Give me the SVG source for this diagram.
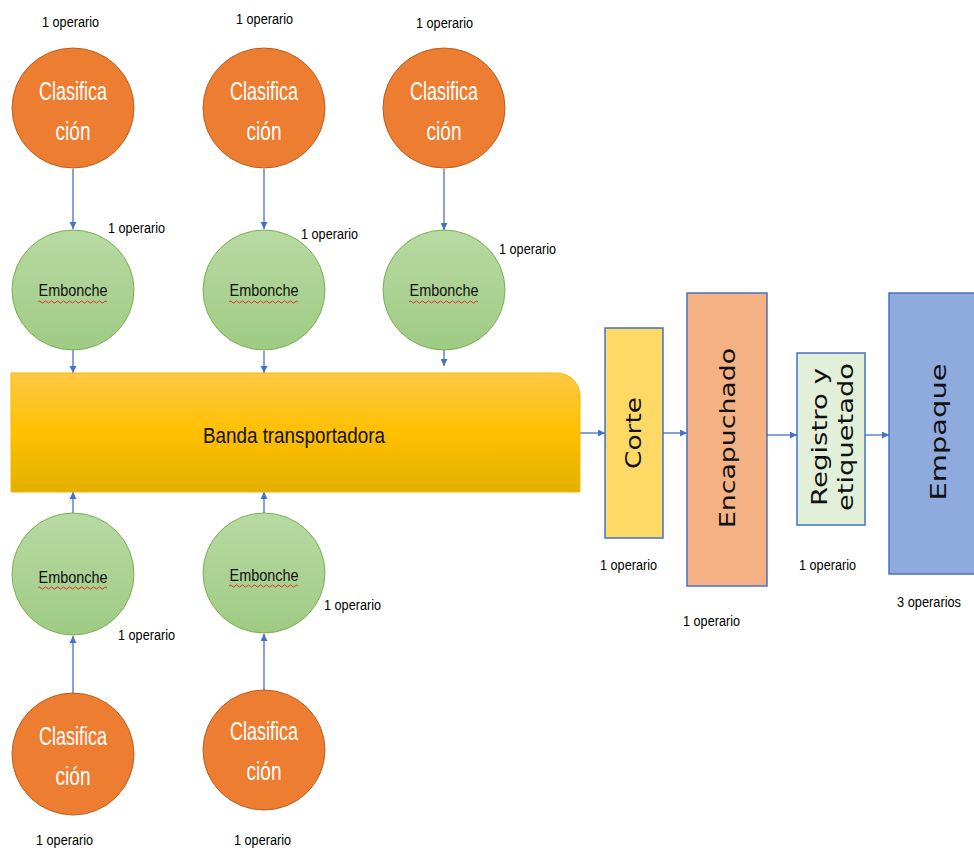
<svg xmlns="http://www.w3.org/2000/svg" width="974" height="850" viewBox="0 0 974 850">
  <defs>
    <style>
      .lbl { font-family: "Liberation Sans", Arial, sans-serif; font-size: 14px; fill: #000; }
      .cls { fill: #ED7D31; stroke: #B85F22; stroke-width: 1; }
      .clst { font-family: "Liberation Sans", Arial, sans-serif; font-size: 25px; fill: #fff; text-anchor: middle; }
      .emb { fill: url(#gGreen); stroke: #79B050; stroke-width: 1; }
      .embt { font-family: "Liberation Sans", Arial, sans-serif; font-size: 17px; fill: #111; text-anchor: middle; }
      .sq { fill: none; stroke: #E03030; stroke-width: 1; }
      .conn { stroke: #4472C4; stroke-width: 1.3; fill: none; marker-end: url(#arr); }
      .box { stroke: #4472C4; stroke-width: 1.5; }
      .bt { font-family: "DejaVu Sans", Verdana, sans-serif; font-size: 21px; fill: #111; text-anchor: middle; dominant-baseline: central; }
    </style>
    <linearGradient id="gGreen" x1="0" y1="0" x2="0" y2="1">
      <stop offset="0" stop-color="#B7DAA3"/>
      <stop offset="1" stop-color="#9FCB83"/>
    </linearGradient>
    <linearGradient id="gBand" x1="0" y1="0" x2="0" y2="1">
      <stop offset="0" stop-color="#FFC845"/>
      <stop offset="0.5" stop-color="#FFC000"/>
      <stop offset="1" stop-color="#E3B000"/>
    </linearGradient>
    <marker id="arr" viewBox="0 0 10 10" refX="10" refY="5" markerWidth="7" markerHeight="7" markerUnits="userSpaceOnUse" orient="auto">
      <path d="M0,0 L10,5 L0,10 z" fill="#4472C4"/>
    </marker>
  </defs>

  <rect width="974" height="850" fill="#fff"/>

  <!-- connectors -->
  <g id="connectors">
    <line class="conn" x1="73" y1="169" x2="73" y2="229"/>
    <line class="conn" x1="264" y1="169" x2="264" y2="229"/>
    <line class="conn" x1="444" y1="169" x2="444" y2="230"/>
    <line class="conn" x1="73" y1="350" x2="73" y2="373"/>
    <line class="conn" x1="264" y1="351" x2="264" y2="373"/>
    <line class="conn" x1="444" y1="350" x2="444" y2="366"/>
    <line class="conn" x1="73" y1="513" x2="73" y2="492"/>
    <line class="conn" x1="264" y1="513" x2="264" y2="492"/>
    <line class="conn" x1="73" y1="693" x2="73" y2="636"/>
    <line class="conn" x1="264" y1="690" x2="264" y2="634"/>
    <line class="conn" x1="580" y1="433" x2="605" y2="433"/>
    <line class="conn" x1="663" y1="433" x2="687" y2="433"/>
    <line class="conn" x1="767" y1="435" x2="797" y2="435"/>
    <line class="conn" x1="865" y1="435" x2="889" y2="435"/>
  </g>

  <!-- top classification stations -->
  <g id="clas-top-1">
    <ellipse class="cls" cx="73" cy="108" rx="61" ry="60"/>
    <text class="clst" x="73" y="100" textLength="68" lengthAdjust="spacingAndGlyphs">Clasifica</text>
    <text class="clst" x="73" y="140" textLength="35" lengthAdjust="spacingAndGlyphs">ción</text>
    <text class="lbl" x="42" y="27" textLength="57" lengthAdjust="spacingAndGlyphs">1 operario</text>
  </g>
  <g id="clas-top-2">
    <ellipse class="cls" cx="264" cy="108" rx="61" ry="60"/>
    <text class="clst" x="264" y="100" textLength="68" lengthAdjust="spacingAndGlyphs">Clasifica</text>
    <text class="clst" x="264" y="140" textLength="35" lengthAdjust="spacingAndGlyphs">ción</text>
    <text class="lbl" x="236" y="24" textLength="57" lengthAdjust="spacingAndGlyphs">1 operario</text>
  </g>
  <g id="clas-top-3">
    <ellipse class="cls" cx="444" cy="108" rx="61" ry="60"/>
    <text class="clst" x="444" y="100" textLength="68" lengthAdjust="spacingAndGlyphs">Clasifica</text>
    <text class="clst" x="444" y="140" textLength="35" lengthAdjust="spacingAndGlyphs">ción</text>
    <text class="lbl" x="416" y="28" textLength="57" lengthAdjust="spacingAndGlyphs">1 operario</text>
  </g>

  <!-- top bunching stations -->
  <g id="emb-top-1">
    <ellipse class="emb" cx="73" cy="290" rx="61" ry="60"/>
    <text class="embt" x="73" y="296" textLength="69" lengthAdjust="spacingAndGlyphs">Embonche</text>
    <path class="sq" d="M38,302 q1.5,-2 3,0 t3,0 t3,0 t3,0 t3,0 t3,0 t3,0 t3,0 t3,0 t3,0 t3,0 t3,0 t3,0 t3,0 t3,0 t3,0 t3,0 t3,0 t3,0 t3,0 t3,0 t3,0 t3,0"/>
    <text class="lbl" x="108" y="233" textLength="57" lengthAdjust="spacingAndGlyphs">1 operario</text>
  </g>
  <g id="emb-top-2">
    <ellipse class="emb" cx="264" cy="290" rx="61" ry="60"/>
    <text class="embt" x="264" y="296" textLength="69" lengthAdjust="spacingAndGlyphs">Embonche</text>
    <path class="sq" d="M229,302 q1.5,-2 3,0 t3,0 t3,0 t3,0 t3,0 t3,0 t3,0 t3,0 t3,0 t3,0 t3,0 t3,0 t3,0 t3,0 t3,0 t3,0 t3,0 t3,0 t3,0 t3,0 t3,0 t3,0 t3,0"/>
    <text class="lbl" x="301" y="239" textLength="57" lengthAdjust="spacingAndGlyphs">1 operario</text>
  </g>
  <g id="emb-top-3">
    <ellipse class="emb" cx="444" cy="290" rx="61" ry="60"/>
    <text class="embt" x="444" y="296" textLength="69" lengthAdjust="spacingAndGlyphs">Embonche</text>
    <path class="sq" d="M409,302 q1.5,-2 3,0 t3,0 t3,0 t3,0 t3,0 t3,0 t3,0 t3,0 t3,0 t3,0 t3,0 t3,0 t3,0 t3,0 t3,0 t3,0 t3,0 t3,0 t3,0 t3,0 t3,0 t3,0 t3,0"/>
    <text class="lbl" x="499" y="254" textLength="57" lengthAdjust="spacingAndGlyphs">1 operario</text>
  </g>

  <!-- conveyor belt -->
  <g id="banda">
    <path d="M11,373 H557 A23,23 0 0 1 580,396 V492 H11 Z" fill="url(#gBand)" stroke="#F2B800" stroke-width="1"/>
    <text x="294" y="443" font-family="Liberation Sans, Arial, sans-serif" font-size="22" fill="#111" text-anchor="middle" textLength="182" lengthAdjust="spacingAndGlyphs">Banda transportadora</text>
  </g>

  <!-- bottom bunching stations -->
  <g id="emb-bot-1">
    <ellipse class="emb" cx="73" cy="574" rx="61" ry="61"/>
    <text class="embt" x="73" y="583" textLength="69" lengthAdjust="spacingAndGlyphs">Embonche</text>
    <path class="sq" d="M38,588 q1.5,-2 3,0 t3,0 t3,0 t3,0 t3,0 t3,0 t3,0 t3,0 t3,0 t3,0 t3,0 t3,0 t3,0 t3,0 t3,0 t3,0 t3,0 t3,0 t3,0 t3,0 t3,0 t3,0 t3,0"/>
    <text class="lbl" x="118" y="640" textLength="57" lengthAdjust="spacingAndGlyphs">1 operario</text>
  </g>
  <g id="emb-bot-2">
    <ellipse class="emb" cx="264" cy="573" rx="61" ry="60"/>
    <text class="embt" x="264" y="581" textLength="69" lengthAdjust="spacingAndGlyphs">Embonche</text>
    <path class="sq" d="M229,586 q1.5,-2 3,0 t3,0 t3,0 t3,0 t3,0 t3,0 t3,0 t3,0 t3,0 t3,0 t3,0 t3,0 t3,0 t3,0 t3,0 t3,0 t3,0 t3,0 t3,0 t3,0 t3,0 t3,0 t3,0"/>
    <text class="lbl" x="324" y="610" textLength="57" lengthAdjust="spacingAndGlyphs">1 operario</text>
  </g>

  <!-- bottom classification stations -->
  <g id="clas-bot-1">
    <ellipse class="cls" cx="73" cy="754" rx="61" ry="61"/>
    <text class="clst" x="73" y="745" textLength="68" lengthAdjust="spacingAndGlyphs">Clasifica</text>
    <text class="clst" x="73" y="785" textLength="35" lengthAdjust="spacingAndGlyphs">ción</text>
    <text class="lbl" x="36" y="845" textLength="57" lengthAdjust="spacingAndGlyphs">1 operario</text>
  </g>
  <g id="clas-bot-2">
    <ellipse class="cls" cx="264" cy="750" rx="61" ry="60"/>
    <text class="clst" x="264" y="740" textLength="68" lengthAdjust="spacingAndGlyphs">Clasifica</text>
    <text class="clst" x="264" y="780" textLength="35" lengthAdjust="spacingAndGlyphs">ción</text>
    <text class="lbl" x="234" y="845" textLength="57" lengthAdjust="spacingAndGlyphs">1 operario</text>
  </g>

  <!-- downstream process steps -->
  <g id="corte">
    <rect class="box" x="605" y="328" width="58" height="210" fill="#FFD966"/>
    <text class="bt" transform="translate(634,433) rotate(-90)" textLength="72" lengthAdjust="spacingAndGlyphs">Corte</text>
    <text class="lbl" x="600" y="570" textLength="57" lengthAdjust="spacingAndGlyphs">1 operario</text>
  </g>
  <g id="encapuchado">
    <rect class="box" x="687" y="293" width="80" height="293" fill="#F4B183"/>
    <text class="bt" transform="translate(728,438) rotate(-90)" textLength="180" lengthAdjust="spacingAndGlyphs">Encapuchado</text>
    <text class="lbl" x="683" y="626" textLength="57" lengthAdjust="spacingAndGlyphs">1 operario</text>
  </g>
  <g id="registro">
    <rect class="box" x="797" y="353" width="68" height="172" fill="#E2F0D9"/>
    <text class="bt" transform="translate(820,437) rotate(-90)" textLength="138" lengthAdjust="spacingAndGlyphs">Registro y</text>
    <text class="bt" transform="translate(846,437) rotate(-90)" textLength="148" lengthAdjust="spacingAndGlyphs">etiquetado</text>
    <text class="lbl" x="799" y="570" textLength="57" lengthAdjust="spacingAndGlyphs">1 operario</text>
  </g>
  <g id="empaque">
    <rect class="box" x="889" y="293" width="90" height="281" fill="#8FAADC"/>
    <text class="bt" transform="translate(939,432) rotate(-90)" textLength="137" lengthAdjust="spacingAndGlyphs">Empaque</text>
    <text class="lbl" x="897" y="607" textLength="64" lengthAdjust="spacingAndGlyphs">3 operarios</text>
  </g>
</svg>
